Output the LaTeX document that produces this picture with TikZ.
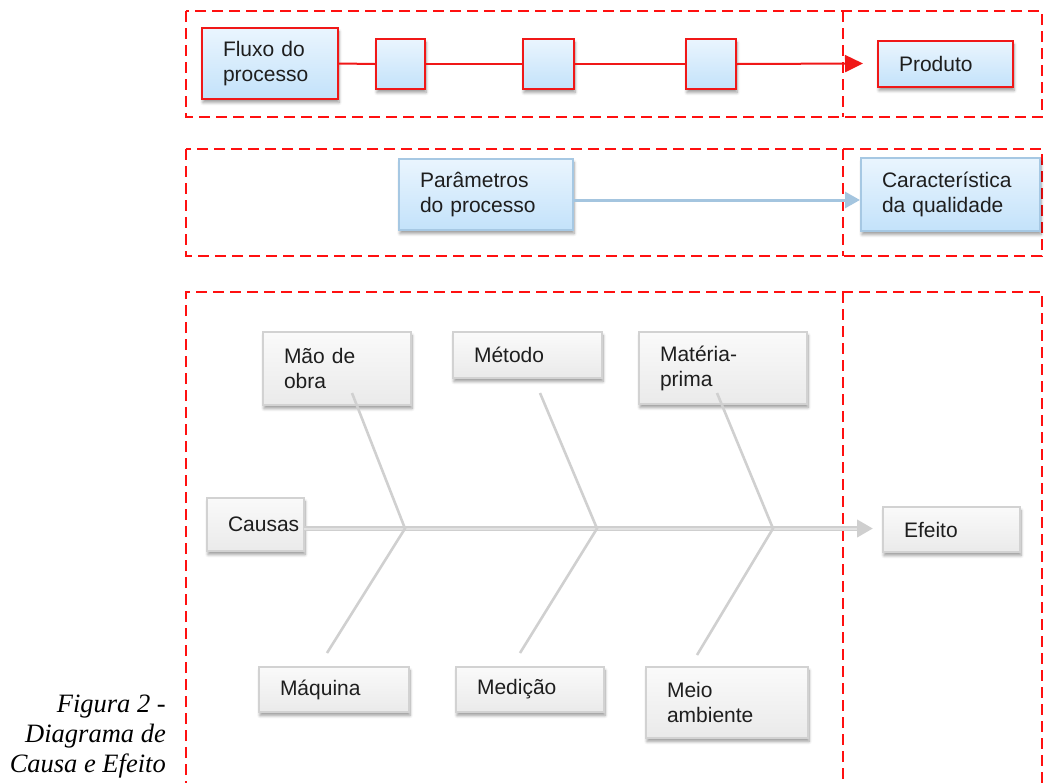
\documentclass[tikz,border=0pt]{standalone}
\usepackage{fontspec}
\setmainfont{Liberation Sans}
\newfontfamily\capfont{Liberation Serif}
\usetikzlibrary{arrows.meta,shadows.blur}

\definecolor{dashred}{HTML}{FF1010}
\definecolor{flowred}{HTML}{F01818}
\definecolor{bluetop}{HTML}{EAF5FE}
\definecolor{bluebot}{HTML}{C3E2FA}
\definecolor{paredge}{HTML}{A6C8E3}
\definecolor{pararrow}{HTML}{A4C5DF}
\definecolor{greytop}{HTML}{FAFAFA}
\definecolor{greybot}{HTML}{EAEAEA}
\definecolor{greyedge}{HTML}{D2D2D2}
\definecolor{bonegrey}{HTML}{D0D0D0}
\definecolor{spinegrey}{HTML}{CFCFCF}
\definecolor{spinelight}{HTML}{E2E2E2}
\definecolor{ink}{HTML}{1E1E1E}

\tikzset{
  frame/.style={draw=dashred, line width=2.8pt, dash pattern=on 11pt off 6pt},
  softshadow/.style={blur shadow={shadow xshift=1pt, shadow yshift=-3.5pt,
      shadow blur radius=3pt, shadow blur steps=6, shadow opacity=40}},
  basebox/.style={rectangle, inner sep=0pt, align=left, text=ink,
      font=\fontsize{21}{25}\selectfont, softshadow},
  flowbox/.style={basebox, draw=flowred, line width=2.4pt,
      top color=bluetop, bottom color=bluebot},
  parbox/.style={basebox, draw=paredge, line width=2pt,
      top color=bluetop, bottom color=bluebot},
  causebox/.style={basebox, draw=greyedge, line width=2pt,
      top color=greytop, bottom color=greybot},
  flowline/.style={draw=flowred, line width=2pt},
  bone/.style={draw=bonegrey, line width=2.6pt},
}

% box from its corner coordinates: name, x1, y1, x2, y2, style, text
\newcommand\placebox[7]{%
  \pgfmathsetmacro\bxw{#4-#2}%
  \pgfmathsetmacro\bxh{#5-#3}%
  \pgfmathsetmacro\bxt{max(#4-#2-42,4)}%
  \node[#6, minimum width=\bxw pt, minimum height=\bxh pt, text width=\bxt pt]
    (#1) at ({(#2+#4)/2},{(#3+#5)/2}) {#7};}

\begin{document}
\begin{tikzpicture}[x=1pt,y=-1pt]
\useasboundingbox (0,0) rectangle (1048,782);
\clip (0,0) rectangle (1048,782);

% ---- dashed frames
\draw[frame] (186,11) rectangle (1042,117);
\draw[frame] (843,11) -- (843,117);
\draw[frame] (186,149) rectangle (1042,256);
\draw[frame] (843,149) -- (843,256);
\draw[frame] (186,792) -- (186,292) -- (1042,292) -- (1042,792);
\draw[frame] (843,292) -- (843,792);

% ---- process flow
\placebox{flux}{202}{28}{338}{99}{flowbox}{Fluxo do\\processo}
\placebox{b1}{376}{39}{425}{89}{flowbox}{}
\placebox{b2}{523}{39}{574}{89}{flowbox}{}
\placebox{b3}{686}{39}{736}{89}{flowbox}{}
\placebox{prod}{878}{41}{1013}{87}{flowbox}{Produto}
\coordinate (pend) at (863,63.5);
\draw[flowline] (flux.east) -- (b1.west);
\draw[flowline] (b1.east) -- (b2.west);
\draw[flowline] (b2.east) -- (b3.west);
\draw[flowline, -{Triangle[length=18pt,width=17pt]}] (b3.east) -- (pend);

% ---- parameters and quality characteristic
\placebox{par}{399}{159}{573}{230}{parbox}{Parâmetros\\do processo}
\placebox{car}{861}{158}{1040}{231}{parbox}{Característica\\da qualidade}
\draw[draw=pararrow, line width=3pt, -{Triangle[length=15pt,width=16pt]}]
  ([yshift=-5.5pt]par.east) -- ([yshift=-5.5pt]car.west);

% ---- cause and effect boxes
\placebox{mao}{263}{332}{411}{405}{causebox}{Mão de\\obra}
\placebox{met}{453}{332}{602}{378}{causebox}{Método}
\placebox{mat}{639}{332}{807}{404}{causebox}{Matéria-\\prima}
\placebox{cau}{207}{498}{304}{551}{causebox}{Causas}
\placebox{efe}{883}{507}{1020}{552}{causebox}{Efeito}
\placebox{maq}{259}{667}{409}{712}{causebox}{Máquina}
\placebox{med}{456}{667}{604}{712}{causebox}{Medição}
\placebox{meio}{646}{667}{808}{738}{causebox}{Meio\\ambiente}

% ---- spine
\coordinate (spS) at (304,528.5);
\coordinate (spE) at (873,528.5);
\draw[draw=spinegrey, line width=5.5pt, -{Triangle[length=16pt,width=17pt]}] (spS) -- (spE);
\draw[draw=spinelight, line width=2pt] (spS) -- (857,528.5);

% ---- bones
\coordinate (j1) at (405,528.5);
\coordinate (j2) at (597,528.5);
\coordinate (j3) at (773,528.5);
\coordinate (u1) at (352,393);
\coordinate (u2) at (540,393);
\coordinate (u3) at (717,393);
\coordinate (d1) at (327,653);
\coordinate (d2) at (520,653);
\coordinate (d3) at (697,655);
\draw[bone] (u1) -- (j1) -- (d1);
\draw[bone] (u2) -- (j2) -- (d2);
\draw[bone] (u3) -- (j3) -- (d3);

% ---- caption
\node[anchor=east, align=right, inner sep=0pt,
      font=\capfont\itshape\fontsize{26.5}{30}\selectfont] (cap) at (166,737)
  {Figura 2 -\\Diagrama de\\Causa e Efeito};
\end{tikzpicture}
\end{document}
